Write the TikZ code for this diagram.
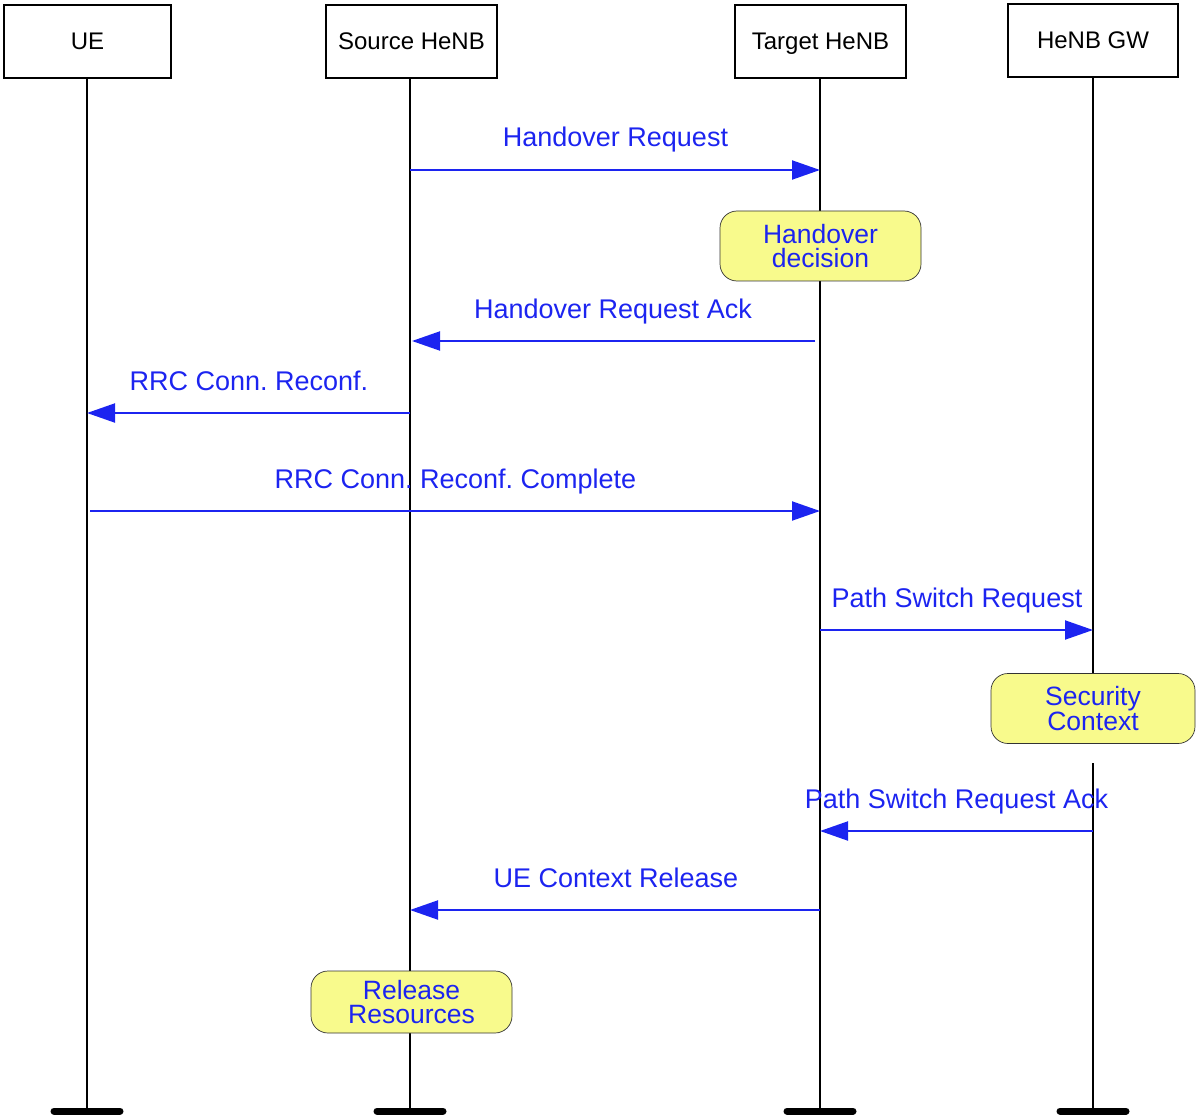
\documentclass[tikz,border=0pt]{standalone}
\usepackage{fontspec}
\setmainfont{Liberation Sans}
\usetikzlibrary{arrows.meta}
\frenchspacing
\definecolor{msgblue}{RGB}{28,36,240}
\definecolor{noteyellow}{RGB}{248,250,140}
\tikzset{
  actor/.style={draw=black, line width=2.2pt, fill=white, minimum width=167pt, minimum height=73pt,
    inner sep=0pt, text height=17pt, text depth=0pt, font=\fontsize{24}{28}\selectfont},
  life/.style={line width=2.4pt, black},
  endbar/.style={line width=7pt, line cap=round, black},
  msg/.style={draw=msgblue, line width=2pt, -{Triangle[length=28pt,width=19pt]}, fill=msgblue},
  msglabel/.style={text=msgblue, anchor=base, inner sep=0pt, font=\fontsize{27}{30}\selectfont},
  note/.style={draw=black!80, line width=0.7pt, fill=noteyellow, rounded corners=17pt,
    minimum width=201pt, minimum height=70pt, inner sep=0pt, align=center,
    text=msgblue, font=\fontsize{26.5}{24}\selectfont},
}
\begin{document}
\frenchspacing
\begin{tikzpicture}[x=1pt,y=-1pt]
\useasboundingbox (0,0) rectangle (1200,1118);
% actors
\node[actor] (ue) at (87.5,41.5) {UE};
\node[actor, minimum width=171pt] (src) at (411.5,41.5) {Source HeNB};
\node[actor, minimum width=171pt] (tgt) at (820.5,41.5) {Target HeNB};
\node[actor, minimum width=170pt] (gw) at (1093,40.5) {HeNB GW};
% lifeline ends
\coordinate (ueE) at (87,1108);
\coordinate (srcE) at (410,1108);
\coordinate (tgtE) at (820,1108);
\coordinate (gwE) at (1093,1108);
\coordinate (gwGapA) at (1093,743);
\coordinate (gwGapB) at (1093,763);
% lifelines
\draw[life] (ue.south -| ueE) -- (ueE);
\draw[life] (src.south -| srcE) -- (srcE);
\draw[life] (tgt.south -| tgtE) -- (tgtE);
\draw[life] (gw.south -| gwE) -- (gwGapA);
\draw[life] (gwGapB) -- (gwE);
% end bars
\draw[endbar] ([xshift=-33pt,yshift=-3pt]ueE) -- ([xshift=33pt,yshift=-3pt]ueE);
\draw[endbar] ([xshift=-33pt,yshift=-3pt]srcE) -- ([xshift=33pt,yshift=-3pt]srcE);
\draw[endbar] ([xshift=-33pt,yshift=-3pt]tgtE) -- ([xshift=33pt,yshift=-3pt]tgtE);
\draw[endbar] ([xshift=-33pt,yshift=-3pt]gwE) -- ([xshift=33pt,yshift=-3pt]gwE);
% notes
\node[note] (hd) at (820.5,246) {Handover\\decision};
\node[note, minimum width=204pt] (sc) at (1093,708.5) {Security\\Context};
\node[note, minimum height=62pt] (rr) at (411.5,1002) {Release\\Resources};
% message endpoints
\coordinate (m1a) at (410,170); \coordinate (m1b) at (820,170);
\coordinate (m2a) at (815,341); \coordinate (m2b) at (412,341);
\coordinate (m3a) at (410,413); \coordinate (m3b) at (87,413);
\coordinate (m4a) at (90,511);  \coordinate (m4b) at (820,511);
\coordinate (m5a) at (820,630); \coordinate (m5b) at (1093,630);
\coordinate (m6a) at (1093,831); \coordinate (m6b) at (820,831);
\coordinate (m7a) at (820,910); \coordinate (m7b) at (410,910);
% messages
\draw[msg] (m1a) -- (m1b);
\draw[msg] (m2a) -- (m2b);
\draw[msg] (m3a) -- (m3b);
\draw[msg] (m4a) -- (m4b);
\draw[msg] (m5a) -- (m5b);
\draw[msg] (m6a) -- (m6b);
\draw[msg] (m7a) -- (m7b);
% labels
\node[msglabel] (l1) at (615.5,147) {Handover Request};
\node[msglabel] (l2) at (613,318) {Handover Request Ack};
\node[msglabel] (l3) at (249,390) {RRC Conn. Reconf.};
\node[msglabel] (l4) at (455.5,488) {RRC Conn. Reconf. Complete};
\node[msglabel] (l5) at (957,607) {Path Switch Request};
\node[msglabel] (l6) at (956.5,808) {Path Switch Request Ack};
\node[msglabel] (l7) at (616,887) {UE Context Release};
\end{tikzpicture}
\end{document}
